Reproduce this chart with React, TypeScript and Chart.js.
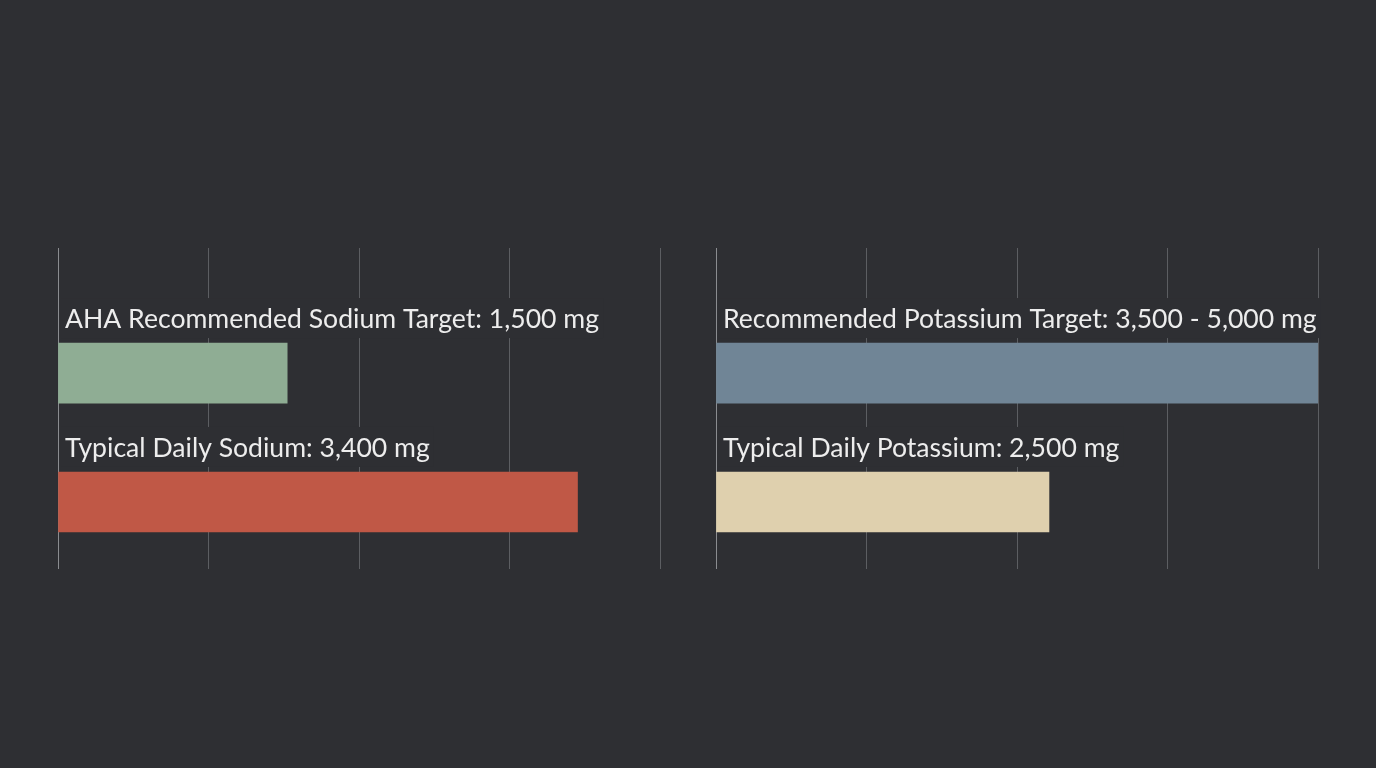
import React, { useEffect, useRef } from "react";
import { Chart, registerables } from "chart.js";

Chart.register(...registerables);

const BG = "#2e2f33";
const GRID = "#5c5e62";
const AXIS = "#8a8c90";
const TEXT = "#ededed";

const sodiumLabels = ["AHA Recommended Sodium Target: 1,500 mg", "Typical Daily Sodium: 3,400 mg"];
const sodiumValues = [1500, 3400];
const sodiumColors = ["#8fad94", "#c05846"];
const sodiumMax = 3940;

const potassiumLabels = ["Recommended Potassium Target: 3,500 - 5,000 mg", "Typical Daily Potassium: 2,500 mg"];
const potassiumValues = [5000, 2500];
const potassiumColors = ["#708596", "#dfd0ae"];
const potassiumMax = 4520;

const labelPlugin = {
  id: "barLabels",
  afterDatasetsDraw(chart: any) {
    const { ctx, chartArea } = chart;
    const labels: string[] = chart.options.plugins.barLabels.labels;
    const meta = chart.getDatasetMeta(0);
    ctx.save();
    ctx.font = "400 26.6px Lato";
    ctx.textBaseline = "alphabetic";
    ctx.textAlign = "left";
    meta.data.forEach((bar: any, i: number) => {
      const p = bar.getProps(["y", "height"], true);
      const top = p.y - p.height / 2;
      const baseline = top - 15;
      const x = chartArea.left + 7;
      const w = ctx.measureText(labels[i]).width;
      ctx.fillStyle = BG;
      ctx.fillRect(x - 4, baseline - 30, w + 8, 40);
      ctx.fillStyle = TEXT;
      ctx.fillText(labels[i], x, baseline);
    });
    ctx.restore();
  },
};

function Panel({ labels, values, colors, max, left }: any) {
  const ref = useRef<HTMLCanvasElement>(null);
  useEffect(() => {
    const chart = new Chart(ref.current as HTMLCanvasElement, {
      type: "bar",
      data: {
        datasets: [
          {
            data: values.map((v: number, i: number) => ({ x: v, y: i })),
            backgroundColor: colors,
            borderWidth: 0,
            barThickness: 60,
          },
        ],
      },
      options: {
        indexAxis: "y",
        animation: false,
        responsive: false,
        layout: { padding: 10 },
        scales: {
          x: {
            type: "linear",
            min: 0,
            max,
            ticks: { display: false, count: 5 },
            grid: {
              drawTicks: false,
              color: (c: any) => (c.index === 0 ? AXIS : GRID),
              lineWidth: 1,
            },
            border: { display: false },
          },
          y: {
            type: "linear",
            reverse: true,
            offset: false,
            min: -0.97,
            max: 1.52,
            display: false,
            grid: { offset: false },
          },
        },
        plugins: {
          legend: { display: false },
          tooltip: { enabled: false },
          barLabels: { labels },
        } as any,
      },
      plugins: [labelPlugin],
    });
    return () => chart.destroy();
  }, []);
  return (
    <canvas
      ref={ref}
      width={622}
      height={341}
      style={{ position: "absolute", left, top: 238, width: 622, height: 341 }}
    />
  );
}

export default function App() {
  return (
    <div style={{ position: "fixed", left: 0, top: 0, width: 1376, height: 768, background: BG, overflow: "hidden" }}>
      <Panel labels={sodiumLabels} values={sodiumValues} colors={sodiumColors} max={sodiumMax} left={48} />
      <Panel labels={potassiumLabels} values={potassiumValues} colors={potassiumColors} max={potassiumMax} left={706} />
    </div>
  );
}
